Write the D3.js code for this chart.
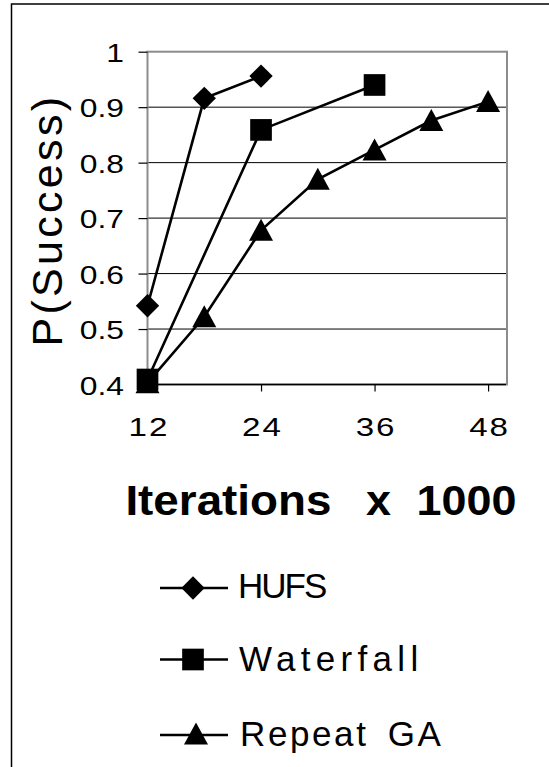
<!DOCTYPE html>
<html lang="en">
<head>
    <meta charset="utf-8">
    <title>P(Success) vs Iterations</title>
    <style>
        body {
            margin: 0;
            padding: 0;
            background: #fff;
        }
        text {
            font-family: "Liberation Sans", Arial, sans-serif;
            fill: #000;
        }
    </style>
</head>
<body>

<div id="chart"></div>

<script src="https://d3js.org/d3.v7.min.js"></script>

<script>
  // Data
  const xTicks = [12, 24, 36, 48];
  const yTicks = [0.4, 0.5, 0.6, 0.7, 0.8, 0.9, 1];
  const yTickLabels = ["0.4", "0.5", "0.6", "0.7", "0.8", "0.9", "1"];

  const hufsX = [12, 18, 24];
  const hufsY = [0.542, 0.916, 0.956];

  const waterfallX = [12, 24, 36];
  const waterfallY = [0.409, 0.859, 0.940];

  const repeatX = [12, 18, 24, 30, 36, 42, 48];
  const repeatY = [0.403, 0.522, 0.678, 0.770, 0.823, 0.876, 0.910];

  const seriesNames = ["HUFS", "Waterfall", "Repeat GA"];
  const xTitleWords = ["Iterations", "x", "1000"];

  const width = 549, height = 767;
  const plot = { left: 147.5, right: 507, top: 51.7, bottom: 384.5 };

  const svg = d3.select("#chart")
    .append("svg")
    .attr("width", width)
    .attr("height", height);

  // outer frame (only top and left edges fall inside the picture)
  svg.append("rect")
    .attr("x", 11.5).attr("y", 4)
    .attr("width", 700).attr("height", 900)
    .attr("fill", "none")
    .attr("stroke", "#000")
    .attr("stroke-width", 1.5);

  const x = d3.scaleLinear().domain([12, 50]).range([plot.left, plot.right]);
  const y = d3.scaleLinear().domain([0.4, 1]).range([plot.bottom, plot.top]);

  // gridlines
  svg.append("g")
    .selectAll("line")
    .data(yTicks.slice(1, -1))
    .join("line")
    .attr("x1", plot.left).attr("x2", plot.right)
    .attr("y1", d => y(d)).attr("y2", d => y(d))
    .attr("stroke", "#000")
    .attr("stroke-width", 1);

  // plot area border
  svg.append("rect")
    .attr("x", plot.left).attr("y", plot.top)
    .attr("width", plot.right - plot.left)
    .attr("height", plot.bottom - plot.top)
    .attr("fill", "none")
    .attr("stroke", "#8c8c8c")
    .attr("stroke-width", 2);

  // y axis
  const yAxis = d3.axisLeft(y)
    .tickValues(yTicks)
    .tickFormat((d, i) => yTickLabels[i])
    .tickSize(9)
    .tickPadding(14);

  const gy = svg.append("g")
    .attr("transform", `translate(${plot.left},0)`)
    .call(yAxis);
  gy.select(".domain").remove();
  gy.selectAll(".tick line").attr("stroke", "#000").attr("stroke-width", 1.2);
  // the original glyphs are drawn wider than Arial, so stretch them a bit
  gy.selectAll(".tick text")
    .attr("font-size", 26.5)
    .attr("dy", "0.37em")
    .attr("x", -23.5 / 1.2)
    .attr("transform", "scale(1.2,1)");

  // x axis
  const xAxis = d3.axisBottom(x)
    .tickValues(xTicks)
    .tickSize(7)
    .tickPadding(27);

  const gx = svg.append("g")
    .attr("transform", `translate(0,${plot.bottom})`)
    .call(xAxis);
  gx.select(".domain")
    .attr("d", `M${plot.left},0H${plot.right - 1}`)
    .attr("stroke", "#000")
    .attr("stroke-width", 1.5);
  gx.selectAll(".tick line").attr("stroke", "#000").attr("stroke-width", 1.2);
  gx.selectAll(".tick text")
    .attr("font-size", 25.5)
    .attr("letter-spacing", 1.5)
    .attr("dx", 0.75)
    .attr("dy", 0)
    .attr("y", 52)
    .attr("transform", "scale(1.3,1)");

  // axis titles
  svg.append("text")
    .attr("transform", `translate(62,${(plot.top + plot.bottom) / 2 + 2}) rotate(-90)`)
    .attr("text-anchor", "middle")
    .attr("font-size", 43)
    .attr("letter-spacing", 3.3)
    .text("P(Success)");

  // x title words are spread out with wide gaps in the original
  const xTitleLeft = [125.4, 366, 416.5];
  const xTitleStretch = [1.09, 1.07, 1.07];
  svg.append("g")
    .selectAll("text")
    .data(xTitleWords)
    .join("text")
    .attr("transform", (d, i) => `translate(${xTitleLeft[i]},515) scale(${xTitleStretch[i]},1)`)
    .attr("font-size", 42)
    .attr("font-weight", "bold")
    .text(d => d);

  // marker shapes
  const diamond = d3.symbol().type(d3.symbolSquare).size(272)();
  const square = d3.symbol().type(d3.symbolSquare).size(470)();
  const triangle = "M0,-11.5L12,10.5L-12,10.5Z";
  const markerPaths = [diamond, square, triangle];
  const markerRotate = [45, 0, 0];

  const series = [
    hufsX.map((d, i) => [d, hufsY[i]]),
    waterfallX.map((d, i) => [d, waterfallY[i]]),
    repeatX.map((d, i) => [d, repeatY[i]])
  ];

  const line = d3.line().x(d => x(d[0])).y(d => y(d[1]));

  // draw later series first so HUFS sits on top like the original
  [2, 1, 0].forEach(s => {
    svg.append("path")
      .attr("d", line(series[s]))
      .attr("fill", "none")
      .attr("stroke", "#000")
      .attr("stroke-width", 2.6);

    svg.append("g")
      .selectAll("path")
      .data(series[s])
      .join("path")
      .attr("d", markerPaths[s])
      .attr("transform", d => `translate(${x(d[0])},${y(d[1])}) rotate(${markerRotate[s]})`)
      .attr("fill", "#000");
  });

  // legend
  const legendY = [588, 659.5, 735];
  const legendTextY = [598, 671, 746];
  const legendSpacing = [-2, 5.3, 2.6];

  seriesNames.forEach((name, i) => {
    const g = svg.append("g");
    g.append("line")
      .attr("x1", 160).attr("x2", 228)
      .attr("y1", legendY[i]).attr("y2", legendY[i])
      .attr("stroke", "#000")
      .attr("stroke-width", 2.6);
    g.append("path")
      .attr("d", markerPaths[i])
      .attr("transform", `translate(${i === 2 ? 196 : 193},${legendY[i] + (i === 2 ? -1 : 0)}) rotate(${markerRotate[i]})`)
      .attr("fill", "#000");
    g.append("text")
      .attr("x", 238 + i)
      .attr("y", legendTextY[i])
      .attr("font-size", 35)
      .attr("letter-spacing", legendSpacing[i])
      .attr("word-spacing", i === 2 ? 7 : 0)
      .text(name);
  });
</script>

</body>
</html>
